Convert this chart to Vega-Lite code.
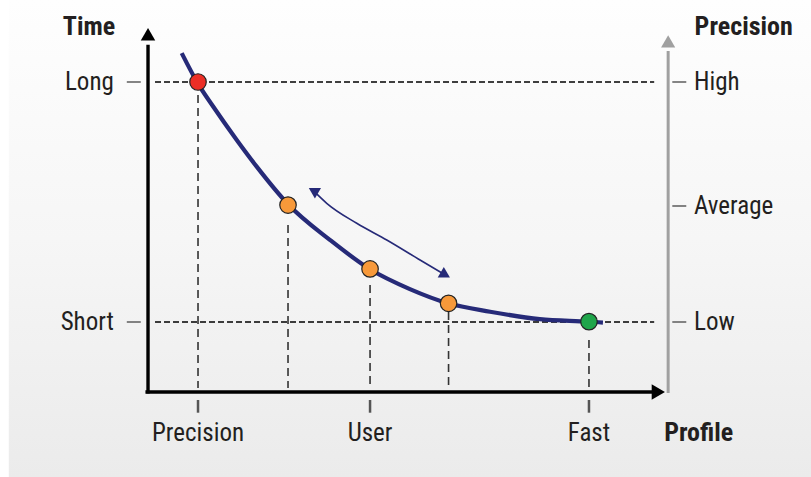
{
  "$schema": "https://vega.github.io/schema/vega-lite/v6.json",
  "width": 811,
  "height": 477,
  "autosize": {"type": "fit", "contains": "padding"},
  "padding": 0,
  "background": "#ffffff",
  "config": {"view": {"stroke": null}},
  "datasets": {
    "bg": [{"x": -26.9, "x2": 128.1, "y": -27.42, "y2": 126.45}],
    "hdash": [
      {"x": 1.35, "x2": 97.8, "y": 100, "y2": 100},
      {"x": 1.35, "x2": 97.8, "y": 22.58, "y2": 22.58}
    ],
    "vdash": [
      {"x": 9.66, "x2": 9.66, "y": 100, "y2": 1.3},
      {"x": 27.05, "x2": 27.05, "y": 53.9, "y2": 1.3},
      {"x": 42.9, "x2": 42.9, "y": 34.5, "y2": 1.3},
      {"x": 58.07, "x2": 58.07, "y": 25.8, "y2": 1.3},
      {"x": 85.2, "x2": 85.2, "y": 16.8, "y2": 1.3}
    ],
    "sideticks": [
      {"x": -4.1, "x2": -1.4, "y": 100, "y2": 100},
      {"x": -4.1, "x2": -1.4, "y": 22.58, "y2": 22.58},
      {"x": 101.3, "x2": 104, "y": 100, "y2": 100},
      {"x": 101.3, "x2": 104, "y": 60, "y2": 60},
      {"x": 101.3, "x2": 104, "y": 22.58, "y2": 22.58}
    ],
    "bottomticks": [
      {"x": 9.66, "x2": 9.66, "y": -2.58, "y2": -6.68},
      {"x": 42.9, "x2": 42.9, "y": -2.58, "y2": -6.68},
      {"x": 85.2, "x2": 85.2, "y": -2.58, "y2": -6.68}
    ],
    "blackaxes": [
      {"x": 0, "x2": 0, "y": -0.5, "y2": 112},
      {"x": -0.5, "x2": 97.5, "y": 0, "y2": 0}
    ],
    "grayaxis": [{"x": 100.5, "x2": 100.5, "y": -0.3, "y2": 110}],
    "uparrow": [{"x": 0, "y": 115.4}],
    "rightarrow": [{"x": 98.6, "y": 0}],
    "grayarrow": [{"x": 100.5, "y": 113.1}],
    "curve": [
      {"x": 6.51, "y": 109.3},
      {"x": 9.53, "y": 99.8},
      {"x": 12.62, "y": 92.0},
      {"x": 17.14, "y": 81.3},
      {"x": 21.0, "y": 72.7},
      {"x": 27.1, "y": 60.5},
      {"x": 35.2, "y": 49.0},
      {"x": 42.9, "y": 39.6},
      {"x": 50.6, "y": 33.2},
      {"x": 58.0, "y": 28.6},
      {"x": 66.1, "y": 25.9},
      {"x": 75.7, "y": 23.5},
      {"x": 85.1, "y": 22.7},
      {"x": 87.9, "y": 22.4}
    ],
    "swing": [
      {"x": 32.1, "y": 64.7},
      {"x": 34.53, "y": 60.87},
      {"x": 40.33, "y": 54.42},
      {"x": 46.13, "y": 49.03},
      {"x": 52.56, "y": 42.58},
      {"x": 57.2, "y": 38.0}
    ],
    "swingUp": [{"x": 31.95, "y": 64.95}],
    "swingDown": [{"x": 57.45, "y": 37.75}],
    "points": [
      {"x": 9.66, "y": 100, "profile": "precision"},
      {"x": 27.05, "y": 60.3, "profile": "intermediate"},
      {"x": 42.9, "y": 39.7, "profile": "intermediate"},
      {"x": 58.07, "y": 28.6, "profile": "intermediate"},
      {"x": 85.2, "y": 22.7, "profile": "fast"}
    ],
    "leftlabels": [
      {"x": -6.6, "y": 100, "label": "Long"},
      {"x": -6.6, "y": 22.58, "label": "Short"}
    ],
    "rightlabels": [
      {"x": 105.5, "y": 100, "label": "High"},
      {"x": 105.5, "y": 60, "label": "Average"},
      {"x": 105.5, "y": 22.58, "label": "Low"}
    ],
    "bottomlabels": [
      {"x": 9.66, "y": -13.3, "label": "Precision"},
      {"x": 42.9, "y": -13.3, "label": "User"},
      {"x": 85.2, "y": -13.3, "label": "Fast"}
    ],
    "titles": [
      {"x": -11.4, "y": 117.7, "label": "Time"},
      {"x": 115.1, "y": 117.7, "label": "Precision"},
      {"x": 106.4, "y": -13.3, "label": "Profile"}
    ]
  },
  "encoding": {
    "x": {"field": "x", "type": "quantitative", "scale": {"domain": [-28.6, 128.1], "nice": false, "zero": false}, "axis": null},
    "y": {"field": "y", "type": "quantitative", "scale": {"domain": [-27.42, 126.45], "nice": false, "zero": false}, "axis": null}
  },
  "layer": [
    {
      "data": {"name": "bg"},
      "mark": {"type": "rect", "fill": {"gradient": "linear", "x1": 0, "y1": 0, "x2": 0, "y2": 1, "stops": [{"offset": 0, "color": "#fefefe"}, {"offset": 0.5, "color": "#f6f6f6"}, {"offset": 1, "color": "#ebebeb"}]}},
      "encoding": {"x2": {"field": "x2"}, "y2": {"field": "y2"}}
    },
    {
      "data": {"name": "hdash"},
      "mark": {"type": "rule", "color": "#000000", "strokeWidth": 1.4, "strokeDash": [6, 3]},
      "encoding": {"x2": {"field": "x2"}, "y2": {"field": "y2"}}
    },
    {
      "data": {"name": "vdash"},
      "mark": {"type": "rule", "color": "#333333", "strokeWidth": 1.6, "strokeDash": [8, 5]},
      "encoding": {"x2": {"field": "x2"}, "y2": {"field": "y2"}}
    },
    {
      "data": {"name": "sideticks"},
      "mark": {"type": "rule", "color": "#444444", "strokeWidth": 1.3},
      "encoding": {"x2": {"field": "x2"}, "y2": {"field": "y2"}}
    },
    {
      "data": {"name": "bottomticks"},
      "mark": {"type": "rule", "color": "#555555", "strokeWidth": 2.5},
      "encoding": {"x2": {"field": "x2"}, "y2": {"field": "y2"}}
    },
    {
      "data": {"name": "grayaxis"},
      "mark": {"type": "rule", "color": "#a0a0a0", "strokeWidth": 3},
      "encoding": {"x2": {"field": "x2"}, "y2": {"field": "y2"}}
    },
    {
      "data": {"name": "blackaxes"},
      "mark": {"type": "rule", "color": "#000000", "strokeWidth": 3.4},
      "encoding": {"x2": {"field": "x2"}, "y2": {"field": "y2"}}
    },
    {
      "data": {"name": "uparrow"},
      "mark": {"type": "point", "shape": "triangle-up", "size": 210, "filled": true, "color": "#000000", "opacity": 1, "strokeWidth": 0}
    },
    {
      "data": {"name": "rightarrow"},
      "mark": {"type": "point", "shape": "triangle-right", "size": 235, "filled": true, "color": "#000000", "opacity": 1, "strokeWidth": 0}
    },
    {
      "data": {"name": "grayarrow"},
      "mark": {"type": "point", "shape": "triangle-up", "size": 200, "filled": true, "color": "#a0a0a0", "opacity": 1, "strokeWidth": 0}
    },
    {
      "data": {"name": "curve"},
      "mark": {"type": "line", "interpolate": "monotone", "color": "#262a78", "strokeWidth": 4.2}
    },
    {
      "data": {"name": "swing"},
      "mark": {"type": "line", "interpolate": "monotone", "color": "#262a78", "strokeWidth": 1.6}
    },
    {
      "data": {"name": "swingUp"},
      "mark": {"type": "point", "shape": "triangle-up", "size": 150, "angle": 300, "filled": true, "color": "#262a78", "opacity": 1, "strokeWidth": 0}
    },
    {
      "data": {"name": "swingDown"},
      "mark": {"type": "point", "shape": "triangle-up", "size": 150, "angle": 120, "filled": true, "color": "#262a78", "opacity": 1, "strokeWidth": 0}
    },
    {
      "data": {"name": "points"},
      "mark": {"type": "point", "shape": "circle", "size": 272, "filled": true, "opacity": 1, "stroke": "#222222", "strokeWidth": 1.2},
      "encoding": {
        "fill": {"field": "profile", "type": "nominal", "scale": {"domain": ["precision", "intermediate", "fast"], "range": ["#ec2f26", "#f7993a", "#1fa54a"]}, "legend": null}
      }
    },
    {
      "data": {"name": "leftlabels"},
      "mark": {"type": "text", "align": "right", "baseline": "middle", "font": "Liberation Sans Narrow, Roboto Condensed, DejaVu Sans Condensed, sans-serif", "fontSize": 25, "color": "#231f20"},
      "encoding": {"text": {"field": "label"}}
    },
    {
      "data": {"name": "rightlabels"},
      "mark": {"type": "text", "align": "left", "baseline": "middle", "font": "Liberation Sans Narrow, Roboto Condensed, DejaVu Sans Condensed, sans-serif", "fontSize": 25, "color": "#231f20"},
      "encoding": {"text": {"field": "label"}}
    },
    {
      "data": {"name": "bottomlabels"},
      "mark": {"type": "text", "align": "center", "baseline": "middle", "font": "Liberation Sans Narrow, Roboto Condensed, DejaVu Sans Condensed, sans-serif", "fontSize": 25, "color": "#231f20"},
      "encoding": {"text": {"field": "label"}}
    },
    {
      "data": {"name": "titles"},
      "mark": {"type": "text", "align": "center", "baseline": "middle", "font": "Liberation Sans Narrow, Roboto Condensed, DejaVu Sans Condensed, sans-serif", "fontSize": 26, "fontWeight": "bold", "color": "#231f20"},
      "encoding": {"text": {"field": "label"}}
    }
  ]
}
